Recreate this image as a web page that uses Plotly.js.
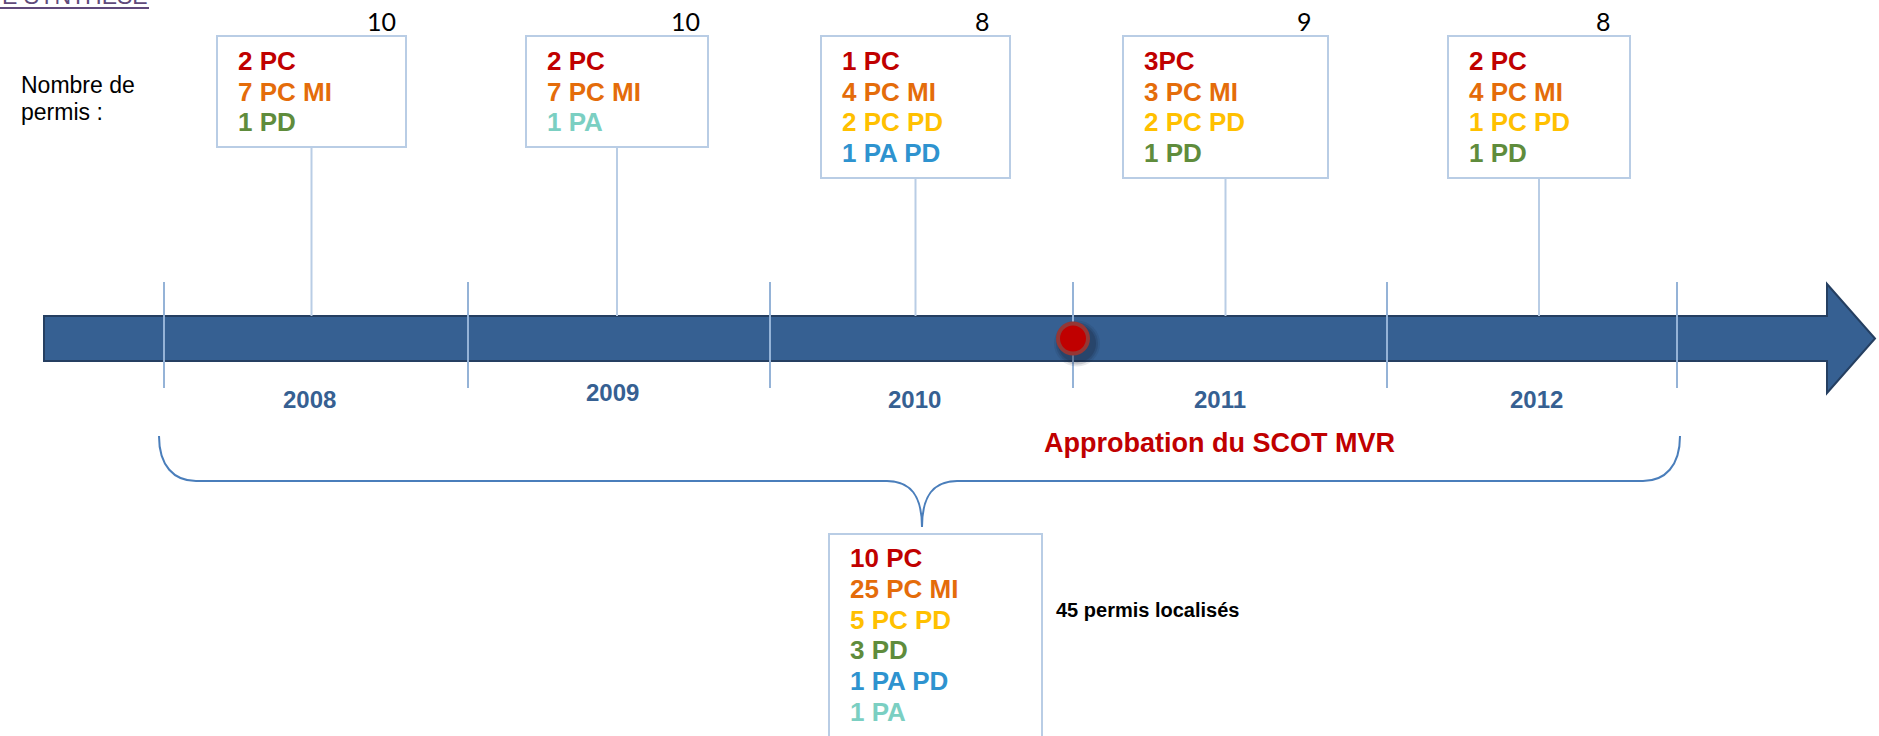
<!DOCTYPE html>
<html>
<head>
<meta charset="utf-8">
<script src="https://cdn.plot.ly/plotly-3.0.1.min.js"></script>
<style>html,body{margin:0;padding:0;background:#fff;}#chart{width:1879px;height:736px;}</style>
</head>
<body>
<div id="chart"></div>
<script>
// ---------------- DATA ----------------
const years = ['2008', '2009', '2010', '2011', '2012'];
const totals = [10, 10, 8, 9, 8];
const permis2008 = ['2 PC', '7 PC MI', '1 PD'];
const permis2009 = ['2 PC', '7 PC MI', '1 PA'];
const permis2010 = ['1 PC', '4 PC MI', '2 PC PD', '1 PA PD'];
const permis2011 = ['3PC', '3 PC MI', '2 PC PD', '1 PD'];
const permis2012 = ['2 PC', '4 PC MI', '1 PC PD', '1 PD'];
const permisTotal = ['10 PC', '25 PC MI', '5 PC PD', '3 PD', '1 PA PD', '1 PA'];
const totalText = '45 permis localisés';
const eventText = 'Approbation du SCOT MVR';
const countLabelLines = ['Nombre de', 'permis :'];
const headerText = 'E SYNTHESE';

// ---------------- STYLE / LAYOUT CONSTANTS ----------------
const typeColors = {
  'PC': '#c00000', 'PC MI': '#e46c0a', 'PC PD': '#ffc000',
  'PD': '#5f8c3c', 'PA PD': '#2e93cf', 'PA': '#7bcfc2'
};
const permisByYear = [permis2008, permis2009, permis2010, permis2011, permis2012];
const W = 1879, H = 736;
const boxLeft = [217, 526, 821, 1123, 1448];
const boxRight = [406, 708, 1010, 1328, 1630];
const boxTop = 36;
const countX = [381, 685, 982, 1304, 1603];
const yearX = [309, 612, 914, 1220, 1536];
const yearY = [399, 392, 399, 399, 399];
const tickX = [164, 468, 770, 1073, 1387, 1677];
const barTop = 316, barBot = 361, barLeft = 44, headBase = 1827, headTop = 284, headBot = 393, tipX = 1875;
const barMid = (barTop + barBot) / 2;
const lineStep = 30.5, firstLine = 61;
const boxLine = '#b9cde5';
const fontMain = 'Liberation Sans, Arial, sans-serif';

function typeOf(label) { return label.replace(/^\d+\s*/, ''); }

const shapes = [];
const annotations = [];

// bar arrow
shapes.push({
  type: 'path', xref: 'x', yref: 'y', layer: 'above',
  path: `M${barLeft},${barTop} L${headBase},${barTop} L${headBase},${headTop} L${tipX},${barMid} L${headBase},${headBot} L${headBase},${barBot} L${barLeft},${barBot} Z`,
  fillcolor: '#366092', line: {color: '#253f61', width: 2}
});
// ticks
tickX.forEach(x => shapes.push({type: 'line', xref: 'x', yref: 'y', layer: 'above', x0: x, x1: x, y0: 282, y1: 388, line: {color: '#95b3d7', width: 2}}));

// boxes + connectors + texts
permisByYear.forEach((arr, i) => {
  const bBottom = arr.length === 3 ? 147 : 178;
  const cx = (boxLeft[i] + boxRight[i]) / 2;
  shapes.push({type: 'rect', xref: 'x', yref: 'y', layer: 'above', x0: boxLeft[i], x1: boxRight[i], y0: boxTop, y1: bBottom, line: {color: boxLine, width: 2}, fillcolor: 'rgba(0,0,0,0)'});
  shapes.push({type: 'line', xref: 'x', yref: 'y', layer: 'above', x0: cx, x1: cx, y0: bBottom, y1: barTop, line: {color: boxLine, width: 2}});
  arr.forEach((lab, j) => {
    annotations.push({xref: 'x', yref: 'y', x: boxLeft[i] + 19, y: firstLine + j * lineStep, xanchor: 'left', yanchor: 'middle', showarrow: false,
      text: lab, font: {family: fontMain, size: 26, weight: 700, color: typeColors[typeOf(lab)]}});
  });
  annotations.push({xref: 'x', yref: 'y', x: countX[i], y: 21, xanchor: 'center', yanchor: 'middle', showarrow: false,
    text: String(totals[i]), font: {family: 'Lato, Carlito, Calibri, sans-serif', size: 25, color: '#000'}});
  annotations.push({xref: 'x', yref: 'y', x: yearX[i], y: yearY[i], xanchor: 'center', yanchor: 'middle', showarrow: false,
    text: years[i], font: {family: fontMain, size: 24, weight: 700, color: '#366092'}});
});

// red dot (SCOT approval) with soft shadow
const dx = tickX[3], dy = barMid, r = 17;
[[6, 0.10], [4, 0.15], [2, 0.2]].forEach(([g, a]) => shapes.push({type: 'circle', xref: 'x', yref: 'y', layer: 'above',
  x0: dx - r - g + 4, x1: dx + r + g + 4, y0: dy - r - g + 5, y1: dy + r + g + 5, fillcolor: `rgba(20,30,50,${a})`, line: {width: 0}}));
shapes.push({type: 'circle', xref: 'x', yref: 'y', layer: 'above', x0: dx - r, x1: dx + r, y0: dy - r, y1: dy + r, fillcolor: '#953735', line: {width: 0}});
shapes.push({type: 'circle', xref: 'x', yref: 'y', layer: 'above', x0: dx - r + 4, x1: dx + r - 4, y0: dy - r + 4, y1: dy + r - 4, fillcolor: '#c00000', line: {width: 0}});

annotations.push({xref: 'x', yref: 'y', x: 1219, y: 443, xanchor: 'center', yanchor: 'middle', showarrow: false,
  text: eventText, font: {family: fontMain, size: 27, weight: 700, color: '#c00000'}});

// brace
shapes.push({type: 'path', xref: 'x', yref: 'y', layer: 'above',
  path: 'M159,436 C159,466 174,481 196,481 L887,481 C910,481 922,495 922,527 C922,495 934,481 957,481 L1643,481 C1665,481 1680,466 1680,436',
  line: {color: '#4a7ebb', width: 2}});

// bottom summary box
shapes.push({type: 'rect', xref: 'x', yref: 'y', layer: 'above', x0: 829, x1: 1042, y0: 534, y1: 760, line: {color: boxLine, width: 2}, fillcolor: 'rgba(0,0,0,0)'});
permisTotal.forEach((lab, j) => {
  annotations.push({xref: 'x', yref: 'y', x: 848, y: 558 + j * 30.8, xanchor: 'left', yanchor: 'middle', showarrow: false,
    text: lab, font: {family: fontMain, size: 26, weight: 700, color: typeColors[typeOf(lab)]}});
});
annotations.push({xref: 'x', yref: 'y', x: 1054, y: 610, xanchor: 'left', yanchor: 'middle', showarrow: false,
  text: totalText, font: {family: fontMain, size: 20, weight: 700, color: '#000'}});

// left labels
countLabelLines.forEach((t, j) => annotations.push({xref: 'x', yref: 'y', x: 19, y: 85 + j * 27, xanchor: 'left', yanchor: 'middle', showarrow: false,
  text: t, font: {family: fontMain, size: 23, color: '#000'}}));
annotations.push({xref: 'x', yref: 'paper', x: 150, y: 1 + 4 / H, xanchor: 'right', yanchor: 'middle', showarrow: false,
  text: headerText, font: {family: fontMain, size: 23, color: '#604a7b'}});
shapes.push({type: 'line', xref: 'x', yref: 'y', layer: 'above', x0: 0, x1: 149, y0: 8, y1: 8, line: {color: '#604a7b', width: 2}});

const layout = {
  width: W, height: H, margin: {l: 0, r: 0, t: 0, b: 0, pad: 0},
  paper_bgcolor: '#fff', plot_bgcolor: '#fff', showlegend: false,
  xaxis: {range: [0, W], visible: false, fixedrange: true},
  yaxis: {range: [H, 0], visible: false, fixedrange: true},
  shapes: shapes, annotations: annotations
};
Plotly.newPlot('chart', [{x: [], y: [], type: 'scatter', hoverinfo: 'skip'}], layout, {displayModeBar: false, staticPlot: true});
</script>
</body>
</html>
